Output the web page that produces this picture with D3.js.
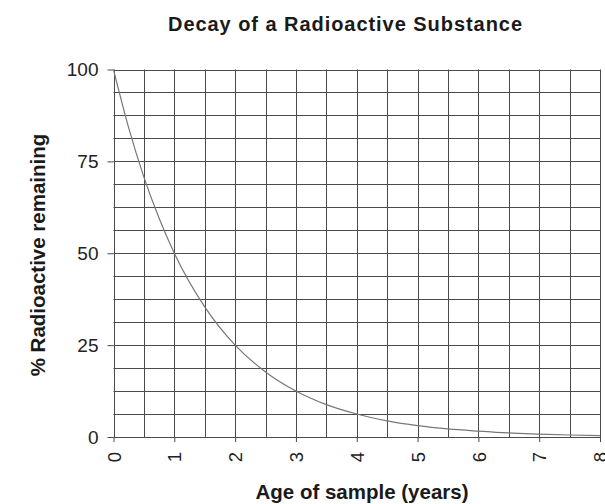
<!DOCTYPE html>
<html><head><meta charset="utf-8">
<script src="https://cdn.jsdelivr.net/npm/d3@7"></script>
<style>body{margin:0;background:#fff;font-family:"Liberation Sans",Arial,sans-serif;}</style>
</head><body><svg id="c" width="605" height="504"></svg>
<script>
const years = [0,0.25,0.5,0.75,1,1.5,2,2.5,3,3.5,4,4.5,5,5.5,6,6.5,7,7.5,8];
const remaining = [100,84.1,70.7,59.5,50,35.4,25,17.7,12.5,8.8,6.25,4.4,3.1,2.2,1.6,1.1,0.8,0.55,0.4];
const xTicks = [0,1,2,3,4,5,6,7,8];
const yTicks = [0,25,50,75,100];
const xGrid = d3.range(0,8.01,0.5);
const yGrid = d3.range(0,100.01,6.25);

const svg = d3.select("#c");
const m = {l:113.5,r:600,t:69.5,b:437};
const x = d3.scaleLinear().domain([0,8]).range([m.l,m.r]);
const y = d3.scaleLinear().domain([0,100]).range([m.b,m.t]);
const gridC = "#4a4a4a";
const font = "Liberation Sans, Arial, sans-serif";

svg.append("g").selectAll("line").data(xGrid).join("line")
 .attr("x1",d=>Math.round(x(d))+0.5).attr("x2",d=>Math.round(x(d))+0.5)
 .attr("y1",m.t).attr("y2",m.b).attr("stroke",gridC).attr("stroke-width",1);
svg.append("g").selectAll("line").data(yGrid).join("line")
 .attr("y1",d=>Math.round(y(d))+0.5).attr("y2",d=>Math.round(y(d))+0.5)
 .attr("x1",m.l).attr("x2",m.r).attr("stroke",gridC).attr("stroke-width",1);

const ya = svg.append("g").attr("transform",`translate(${m.l},0)`)
 .call(d3.axisLeft(y).tickValues(yTicks).tickSize(6).tickPadding(9));
ya.select(".domain").remove();
ya.selectAll("line").attr("stroke",gridC);
ya.selectAll("text").attr("font-size",19).attr("fill","#222").attr("font-family",font);

const xa = svg.append("g").attr("transform",`translate(0,${m.b})`)
 .call(d3.axisBottom(x).tickValues(xTicks).tickSize(5).tickFormat(d3.format("d")));
xa.select(".domain").remove();
xa.selectAll("line").attr("stroke",gridC);
xa.selectAll("text").attr("font-size",18.5).attr("fill","#222").attr("font-family",font)
 .attr("transform","rotate(-90)").attr("text-anchor","end").attr("x",-15).attr("y",0).attr("dy","0.36em");

svg.append("path").datum(years.map((d,i)=>[d,remaining[i]]))
 .attr("d",d3.line().x(d=>x(d[0])).y(d=>y(d[1])).curve(d3.curveMonotoneX))
 .attr("fill","none").attr("stroke","#777").attr("stroke-width",1.2);

svg.append("text").attr("x",168).attr("y",31)
 .attr("font-size",20).attr("font-weight","bold").attr("fill","#1a1a1a").attr("font-family",font)
 .attr("textLength",354).attr("lengthAdjust","spacing").text("Decay of a Radioactive Substance");
svg.append("text").attr("x",362).attr("y",499).attr("text-anchor","middle")
 .attr("font-size",20.5).attr("font-weight","bold").attr("fill","#1a1a1a").attr("font-family",font).text("Age of sample (years)");
svg.append("text").attr("transform","translate(45,255) rotate(-90)").attr("text-anchor","middle")
 .attr("font-size",20.5).attr("font-weight","bold").attr("fill","#1a1a1a").attr("font-family",font).text("% Radioactive remaining");
</script></body></html>
